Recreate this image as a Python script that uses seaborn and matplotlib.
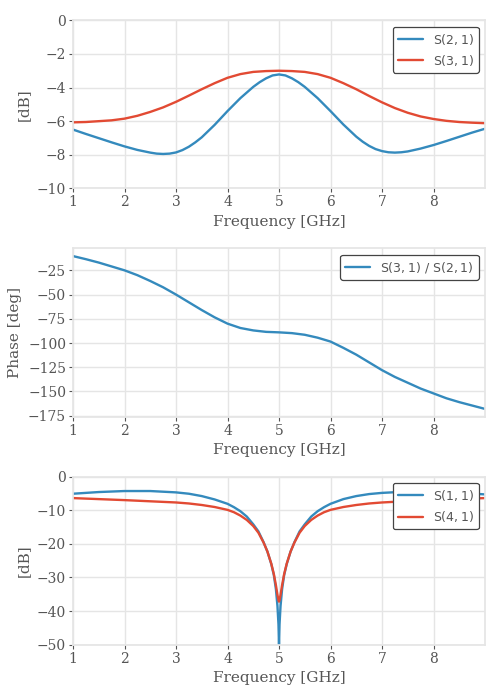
import matplotlib
matplotlib.use("Agg")
import matplotlib.pyplot as plt
from matplotlib.ticker import MultipleLocator
import pandas as pd
import seaborn as sns

# Transmission (top panel)
freq_21 = [1.0, 1.25, 1.5, 1.75, 2.0, 2.25, 2.5, 2.625, 2.75, 2.875, 3.0, 3.125, 3.25, 3.375, 3.5,
           3.75, 4.0, 4.25, 4.5, 4.625, 4.75, 4.875, 5.0, 5.125, 5.25, 5.375, 5.5, 5.75, 6.0, 6.25,
           6.5, 6.625, 6.75, 6.875, 7.0, 7.125, 7.25, 7.375, 7.5, 7.75, 8.0, 8.25, 8.5, 8.75, 9.0]
s21_db = [-6.5, -6.76, -7.01, -7.26, -7.5, -7.71, -7.87, -7.93, -7.95, -7.93, -7.86, -7.72, -7.52,
          -7.26, -6.96, -6.22, -5.4, -4.63, -3.96, -3.68, -3.45, -3.28, -3.22, -3.28, -3.45, -3.68,
          -3.96, -4.63, -5.4, -6.2, -6.92, -7.22, -7.47, -7.66, -7.78, -7.85, -7.87, -7.85, -7.8,
          -7.63, -7.42, -7.18, -6.93, -6.68, -6.45]
freq_31 = [1.0, 1.25, 1.5, 1.75, 2.0, 2.25, 2.5, 2.75, 3.0, 3.25, 3.5, 3.75, 4.0, 4.25, 4.5, 4.75,
           5.0, 5.25, 5.5, 5.75, 6.0, 6.25, 6.5, 6.75, 7.0, 7.25, 7.5, 7.75, 8.0, 8.25, 8.5, 8.75, 9.0]
s31_db = [-6.07, -6.05, -6.0, -5.95, -5.85, -5.68, -5.45, -5.18, -4.85, -4.48, -4.1, -3.74, -3.42,
          -3.2, -3.07, -3.02, -3.0, -3.02, -3.07, -3.2, -3.42, -3.74, -4.1, -4.5, -4.88, -5.22,
          -5.5, -5.72, -5.87, -5.98, -6.05, -6.09, -6.12]

# Phase difference (middle panel)
phase_deg = [-10.3, -13.5, -17, -21, -25, -30, -36, -42.5, -50, -58, -66, -73.5, -80, -84.5, -87,
             -88.5, -89, -89.8, -91.5, -94.5, -98.5, -105, -112, -120, -128, -135, -141, -147,
             -152, -157, -161, -164.5, -168]

# Reflection / isolation (bottom panel)
freq_r = [1.0, 1.5, 2.0, 2.5, 3.0, 3.25, 3.5, 3.75, 4.0, 4.125, 4.25, 4.375, 4.5, 4.6, 4.7, 4.775,
          4.85, 4.9, 4.94, 4.97, 4.99, 5.0, 5.01, 5.03, 5.06, 5.1, 5.15, 5.225, 5.3, 5.4, 5.5,
          5.625, 5.75, 5.875, 6.0, 6.25, 6.5, 6.75, 7.0, 7.5, 8.0, 8.5, 9.0]
s11_db = [-5.1, -4.6, -4.3, -4.3, -4.7, -5.1, -5.8, -6.8, -8.1, -9.1, -10.3, -11.9, -14.2, -16.3,
          -19.5, -22.3, -26.0, -29.3, -33.5, -38.5, -44.0, -50.0, -44.0, -38.5, -33.5, -29.3,
          -26.0, -22.3, -19.5, -16.3, -14.2, -11.9, -10.3, -9.1, -8.1, -6.7, -5.8, -5.2, -4.85,
          -4.45, -4.45, -4.8, -5.3]
s41_db = [-6.4, -6.7, -7.0, -7.35, -7.7, -8.0, -8.45, -9.05, -9.9, -10.6, -11.6, -12.9, -14.7,
          -16.7, -19.6, -22.3, -25.9, -29.0, -32.3, -35.2, -36.8, -37.2, -36.8, -35.2, -32.3,
          -29.0, -25.9, -22.3, -19.6, -16.7, -14.7, -12.9, -11.6, -10.6, -9.9, -9.05, -8.45,
          -8.0, -7.7, -7.3, -6.95, -6.65, -6.4]

df_t = pd.DataFrame({"f": freq_21 + freq_31, "dB": s21_db + s31_db,
                     "s": [r"$\mathrm{S(2,1)}$"] * len(freq_21) + [r"$\mathrm{S(3,1)}$"] * len(freq_31)})
df_p = pd.DataFrame({"f": freq_31, "deg": phase_deg,
                     "s": [r"$\mathrm{S(3,1)\ /\ S(2,1)}$"] * len(freq_31)})
df_r = pd.DataFrame({"f": freq_r * 2, "dB": s11_db + s41_db,
                     "s": [r"$\mathrm{S(1,1)}$"] * len(freq_r) + [r"$\mathrm{S(4,1)}$"] * len(freq_r)})

blue = "#348ABD"
red = "#E24A33"

sns.set_theme(style="whitegrid")
plt.rcParams["font.family"] = ["DejaVu Serif"]
plt.rcParams["mathtext.fontset"] = "dejavusans"
plt.rcParams.update({
    "axes.edgecolor": "#E5E5E5",
    "grid.color": "#E5E5E5",
    "axes.labelcolor": "#555555",
    "xtick.color": "#555555",
    "ytick.color": "#555555",
    "xtick.bottom": True,
    "ytick.left": True,
    "xtick.major.size": 3,
    "ytick.major.size": 3,
    "xtick.major.width": 0.8,
    "ytick.major.width": 0.8,
    "xtick.labelsize": 10,
    "ytick.labelsize": 10,
    "axes.labelsize": 11,
})

fig, axes = plt.subplots(3, 1, figsize=(5, 7), dpi=100)

ax = axes[0]
sns.lineplot(data=df_t, x="f", y="dB", hue="s", palette=[blue, red], linewidth=1.7, ax=ax)
ax.set_ylim(-10, 0)
ax.set_ylabel("[dB]")

ax = axes[1]
sns.lineplot(data=df_p, x="f", y="deg", hue="s", palette=[blue], linewidth=1.7, ax=ax)
ax.yaxis.set_major_locator(MultipleLocator(25))
ax.set_ylabel("Phase [deg]")

ax = axes[2]
sns.lineplot(data=df_r, x="f", y="dB", hue="s", palette=[blue, red], linewidth=1.7, ax=ax)
ax.set_ylim(-50, 0)
ax.set_ylabel("[dB]")

for ax in axes:
    ax.set_xlim(1, 9)
    ax.set_xticks([1, 2, 3, 4, 5, 6, 7, 8])
    ax.set_xlabel("Frequency [GHz]")
    ax.tick_params(axis="both", colors="#555555", labelcolor="#555555", pad=2)
    for sp in ax.spines.values():
        sp.set_color("#E5E5E5")
    leg = ax.legend(loc="upper right", frameon=True, fancybox=True, fontsize=9,
                    edgecolor="#444444", facecolor="white", framealpha=1,
                    handlelength=2.0, borderaxespad=0.5)
    leg.get_frame().set_linewidth(0.9)
    for t in leg.get_texts():
        t.set_color("#555555")

fig.subplots_adjust(left=0.146, right=0.97, top=0.971, bottom=0.079, hspace=0.357)
fig.savefig("out.png", dpi=100)
